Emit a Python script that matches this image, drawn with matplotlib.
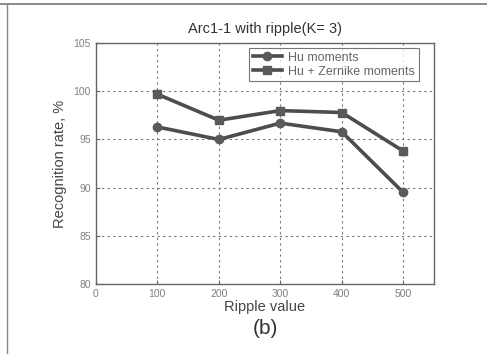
import matplotlib.pyplot as plt
import numpy as np

plt.rcParams['font.family'] = ['Liberation Sans', 'DejaVu Sans']

# data
ripple = [100, 200, 300, 400, 500]
hu = [96.3, 95.0, 96.7, 95.8, 89.5]
hu_zernike = [99.7, 97.0, 98.0, 97.8, 93.8]
xticks = [0, 100, 200, 300, 400, 500]
yticks = [80, 85, 90, 95, 100, 105]

fig = plt.figure(figsize=(4.87, 3.54), dpi=100)
fig.patch.set_facecolor('white')
ax = fig.add_axes([0.197, 0.198, 0.694, 0.680])

ax.plot(ripple, hu, color='#4d4d4d', lw=2.6, marker='o', ms=6,
        markerfacecolor='#5a5a5a', markeredgecolor='#5a5a5a', label='Hu moments')
ax.plot(ripple, hu_zernike, color='#4d4d4d', lw=2.6, marker='s', ms=6,
        markerfacecolor='#5a5a5a', markeredgecolor='#5a5a5a', label='Hu + Zernike moments')

ax.set_xlim(0, 550)
ax.set_ylim(80, 105)
ax.set_xticks(xticks)
ax.set_yticks(yticks)
ax.tick_params(direction='in', labelsize=7.5, colors='#666666', length=3)
for lbl in ax.get_xticklabels() + ax.get_yticklabels():
    lbl.set_color('#808080')
ax.grid(True, linestyle=(0, (2, 3)), color='#777777', lw=0.8)
for s in ax.spines.values():
    s.set_color('#666666')
    s.set_linewidth(1.0)

ax.set_title('Arc1-1 with ripple(K= 3)', fontsize=10.5, color='#333333', pad=7)
ax.set_xlabel('Ripple value', fontsize=10.5, color='#444444', labelpad=1)
ax.set_ylabel('Recognition rate, %', fontsize=10.5, color='#444444', labelpad=5)

leg = ax.legend(loc='upper right', fontsize=9, frameon=True, fancybox=False,
                handlelength=2.3, borderpad=0.3, labelspacing=0.15,
                handletextpad=0.5, borderaxespad=0, bbox_to_anchor=(0.955, 0.98))
leg.get_frame().set_edgecolor('#555555')
leg.get_frame().set_linewidth(0.8)
for t in leg.get_texts():
    t.set_color('#666666')

fig.text(0.545, 0.073, '(b)', fontsize=15, color='#333333', ha='center', va='center')

# scanned page frame lines
fig.add_artist(plt.Line2D([0, 1], [0.99, 0.99], color='#777777', lw=1.2))
fig.add_artist(plt.Line2D([0.015, 0.015], [0.0, 0.99], color='#888888', lw=1.0))

fig.savefig('out.png', dpi=100)
